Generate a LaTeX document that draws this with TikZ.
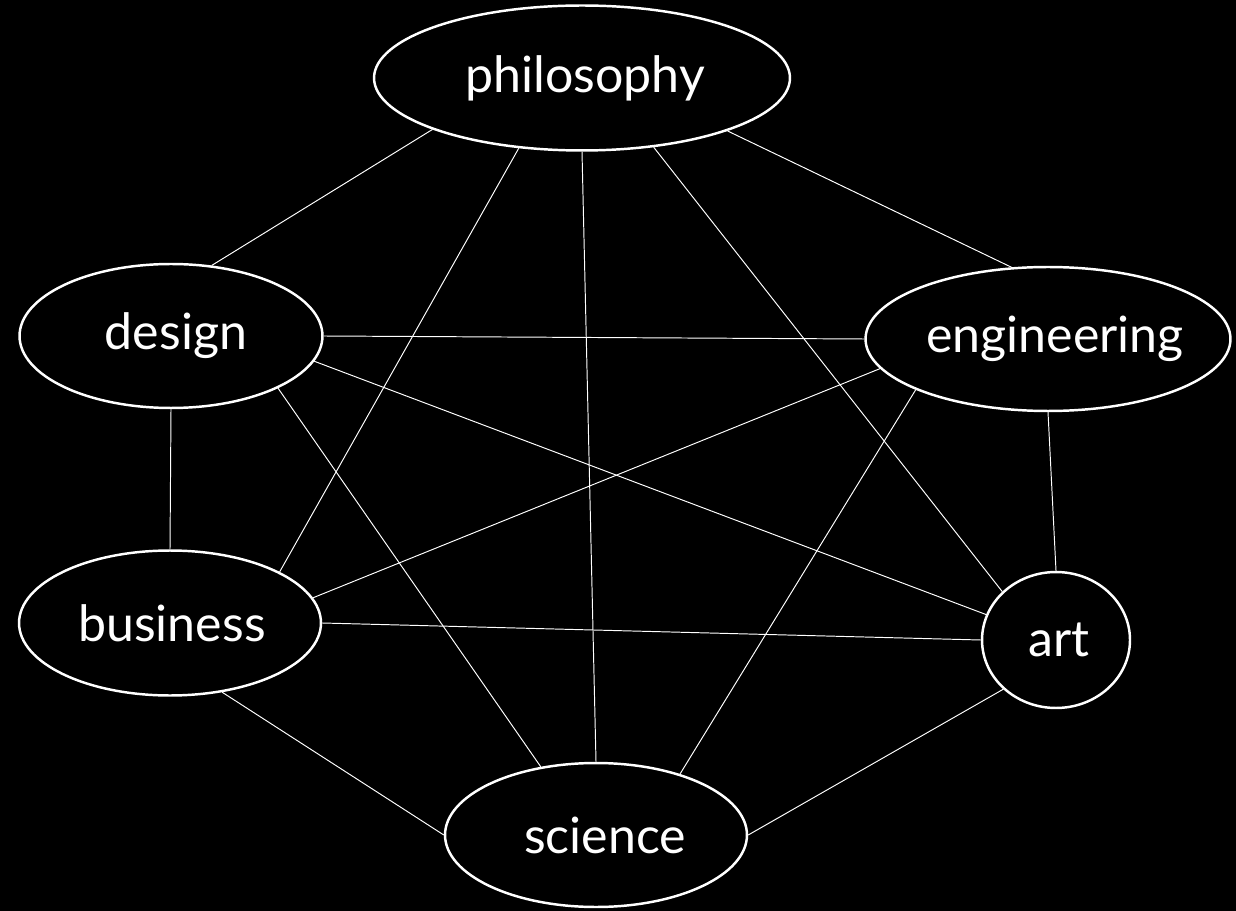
\documentclass[tikz,border=0pt]{standalone}
\usepackage{fontspec}
\setmainfont{Lato}
\usetikzlibrary{shapes.geometric, backgrounds}
\newcommand{\topiclabel}[2][0.2cm]{\makebox[0pt]{\hspace{#1}#2}}

\begin{document}
\begin{tikzpicture}[
    x=0.02cm, y=-0.02cm,
    topic/.style={ellipse, draw=white, line width=1.4pt, fill=black,
                 text=white, font=\fontsize{28.5}{34}\selectfont,
                 inner sep=0pt},
    link/.style={draw=white!88, line width=0.55pt},
  ]
    \useasboundingbox (0,0) rectangle (1236,911);

    \node[topic, minimum width=8.32cm, minimum height=2.9cm] (philo) at (582,78) {\topiclabel[0.12cm]{philosophy}};
    \node[topic, minimum width=6.06cm, minimum height=2.88cm] (design) at (171,336) {\topiclabel{design}};
    \node[topic, minimum width=7.3cm, minimum height=2.88cm] (engin) at (1048,339) {\topiclabel[0.28cm]{engineering}};
    \node[topic, minimum width=6.04cm, minimum height=2.9cm] (business) at (170,623) {\topiclabel[0.08cm]{business}};
    \node[topic, minimum width=2.96cm, minimum height=2.72cm] (art) at (1056,640) {\topiclabel[0.12cm]{art}};
    \node[topic, minimum width=6.04cm, minimum height=2.88cm] (science) at (596,835) {\topiclabel[0.36cm]{science}};

    \begin{scope}[on background layer]
    \fill[black] (0,0) rectangle (1236,911);
    \draw[link] (philo.199) -- (design.60);
    \draw[link] (philo.228) -- (business.25);
    \draw[link] (philo.270) -- (science.90);
    \draw[link] (philo.316) -- (art.138);
    \draw[link] (philo.340) -- (engin.117);
    \draw[link] (design.0) -- (engin.180);
    \draw[link] (design.350) -- (art.160);
    \draw[link] (design.334) -- (science.129);
    \draw[link] (design.270) -- (business.90);
    \draw[link] (engin.190) -- (business.10);
    \draw[link] (engin.201) -- (science.36);
    \draw[link] (engin.270) -- (art.90);
    \draw[link] (business.0) -- (art.180);
    \draw[link] (business.307) -- (science.180);
    \draw[link] (art.223) -- (science.0);
    \end{scope}
  \end{tikzpicture}
\end{document}
